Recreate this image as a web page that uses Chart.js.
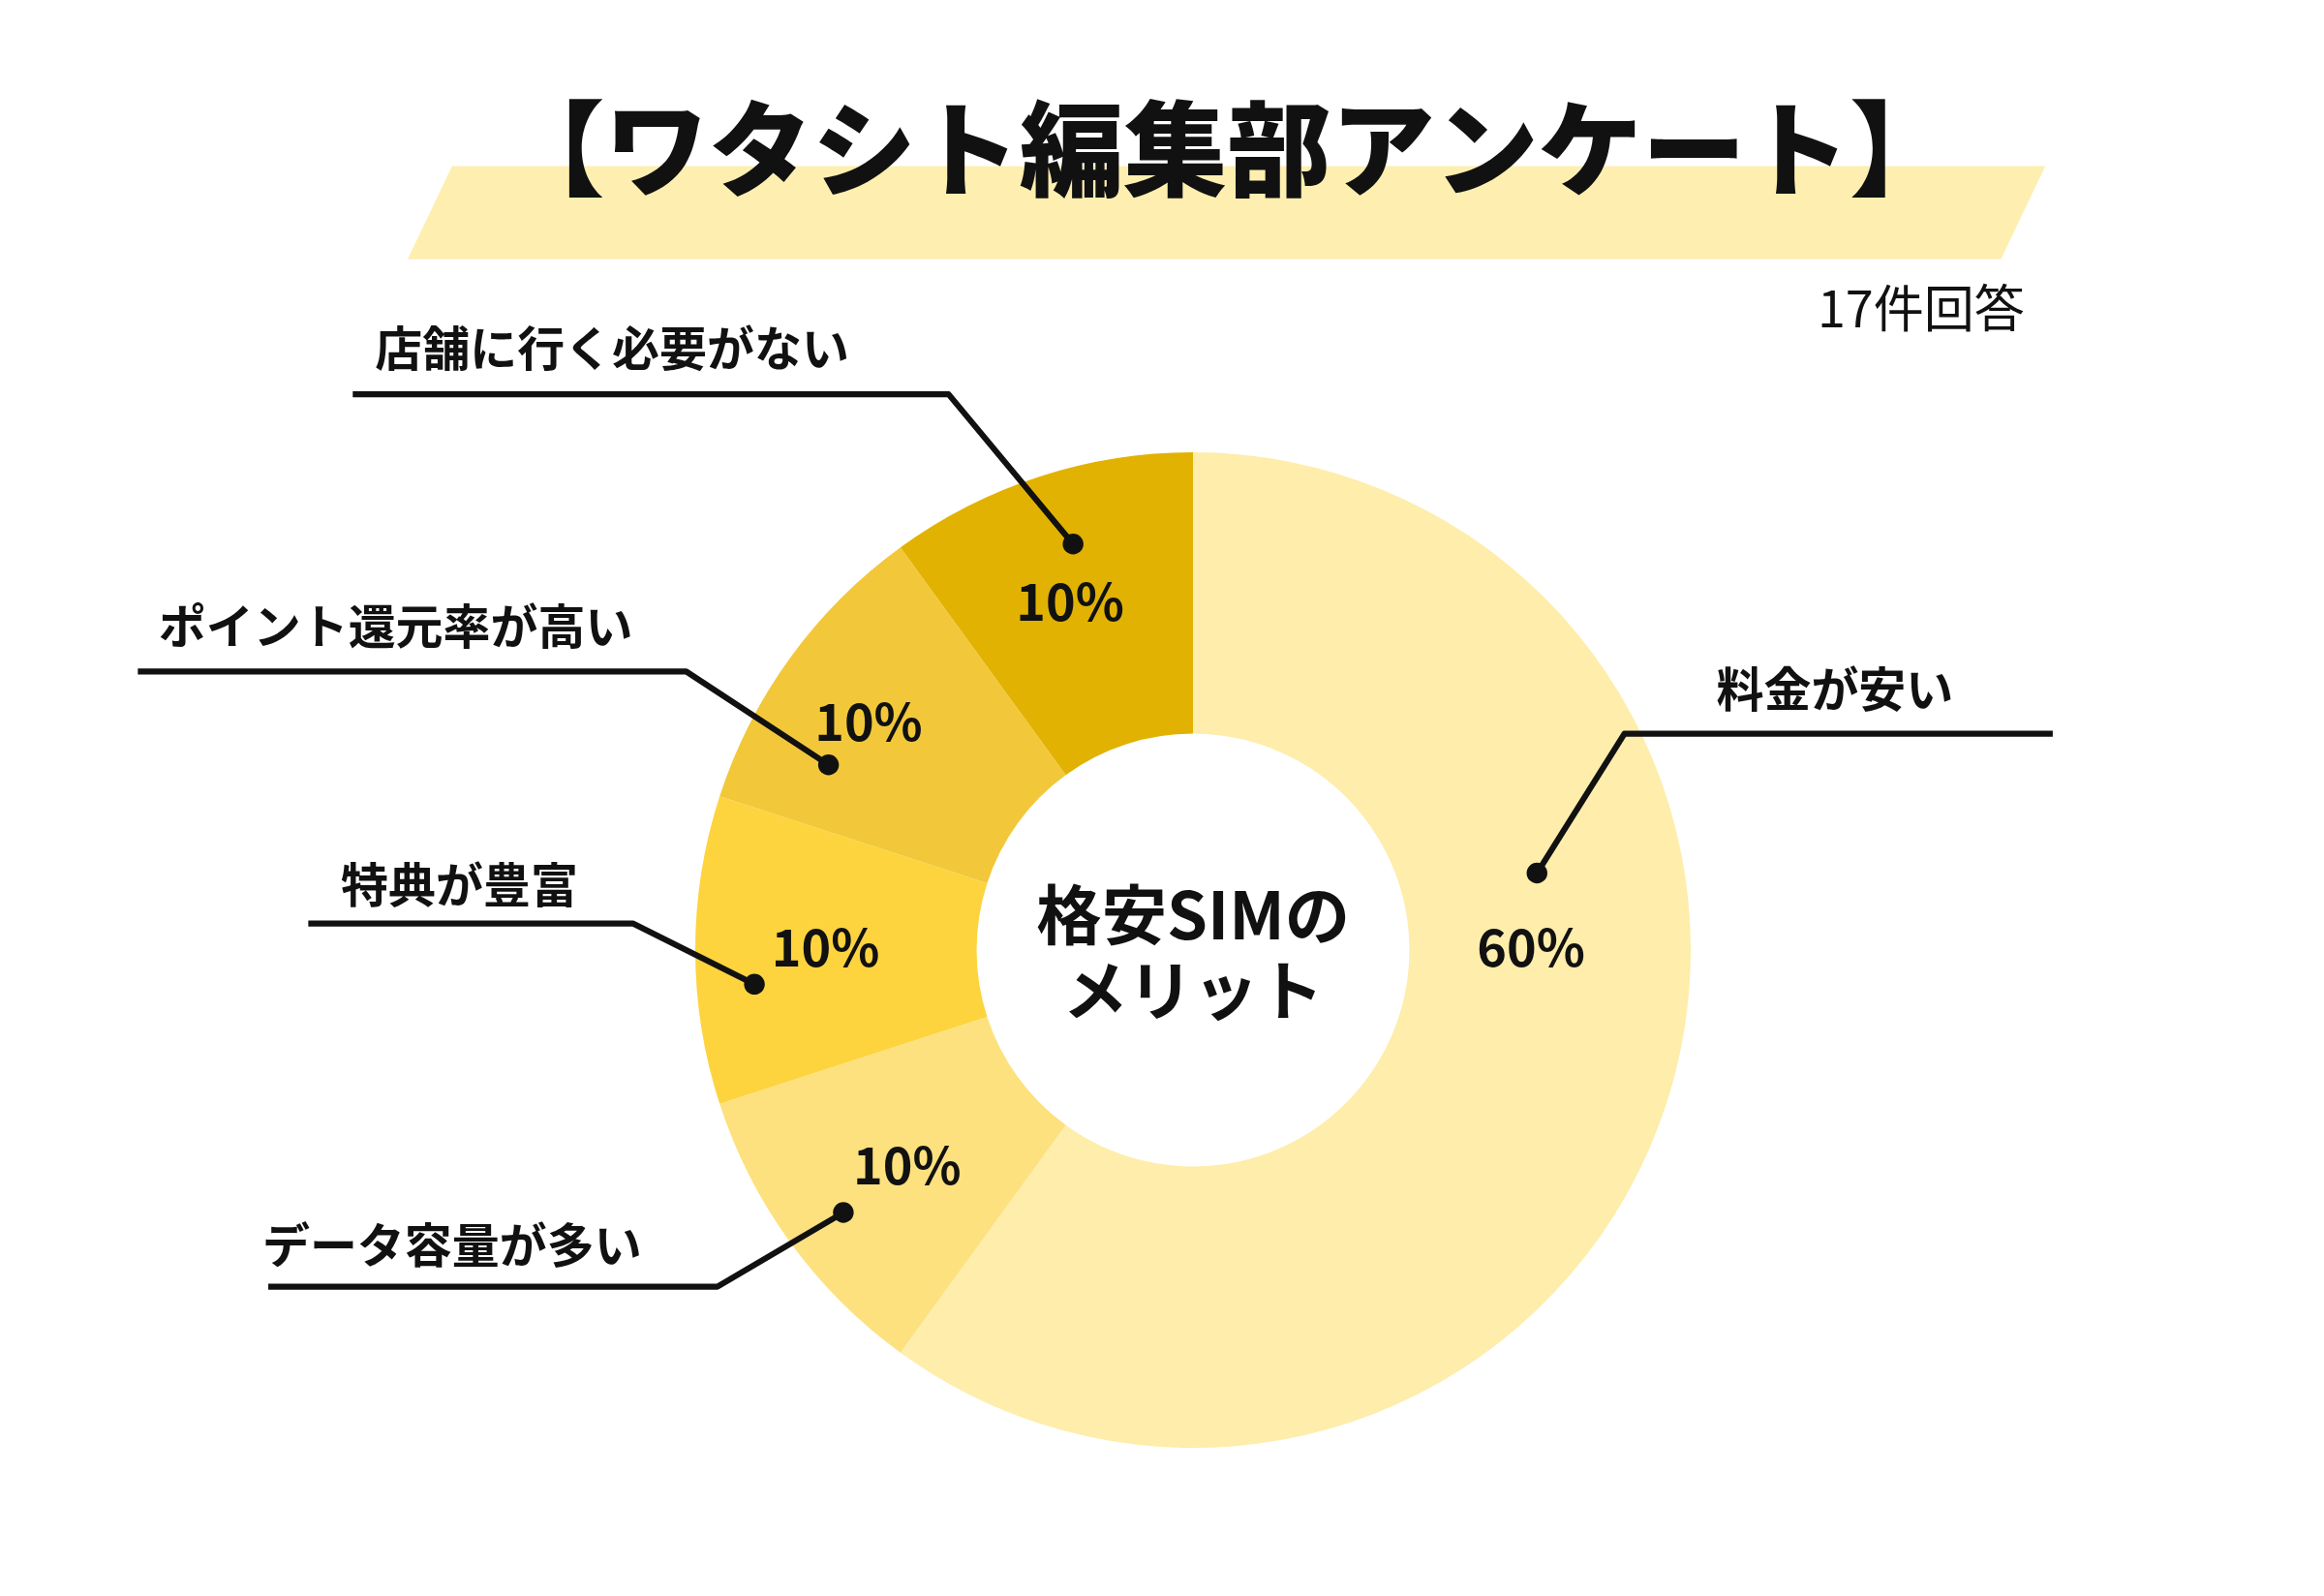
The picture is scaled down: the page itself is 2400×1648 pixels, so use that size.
<!DOCTYPE html>
<html>
<head>
<meta charset="utf-8">
<style>
  html, body { margin: 0; padding: 0; background: #fff; }
  #wrap { width: 2400px; height: 1648px; position: relative; }
</style>
<script src="https://cdn.jsdelivr.net/npm/chart.js@4/dist/chart.umd.min.js"></script>
</head>
<body>
<div id="wrap"><canvas id="pie"></canvas></div>
<script>
// data
const labels = ['料金が安い', 'データ容量が多い', '特典が豊富', 'ポイント還元率が高い', '店舗に行く必要がない'];
const values = [60, 10, 10, 10, 10];
const colors = ['#FEEDAB', '#FDE17E', '#FDD43E', '#F2C83A', '#E2B203'];

const S = 2400 / 1568;
const p = v => v * S;
const JP = '"Noto Sans CJK JP", "Noto Sans", sans-serif';

// leader layout (reference px): label pos, line path, percent label pos
const callouts = [
    { tx: 1158, ty: 465, path: [[1385, 495], [1096, 495], [1037, 589]], px: 1033, py: 639 },
    { tx: 177, ty: 840, path: [[181, 868], [484, 868], [569, 818]], px: 612, py: 786 },
    { tx: 230, ty: 597, path: [[208, 623], [427, 623], [509, 664]], px: 557, py: 639 },
    { tx: 107, ty: 422, path: [[93, 453], [463, 453], [559, 516]], px: 586, py: 487 },
    { tx: 253, ty: 235, path: [[238, 266], [640, 266], [724, 367]], px: 722, py: 406 }
];

const decor = {
    id: 'decor',
    beforeDraw(chart) {
        const c = chart.ctx;
        c.save();
        c.fillStyle = '#FEEFB0';
        c.beginPath();
        c.moveTo(p(305), p(112)); c.lineTo(p(1380), p(112));
        c.lineTo(p(1350), p(175)); c.lineTo(p(275), p(175));
        c.closePath(); c.fill();
        c.fillStyle = '#111';
        c.textAlign = 'center'; c.textBaseline = 'middle';
        c.font = `900 ${p(70)}px ${JP}`;
        c.fillText('【ワタシト編集部アンケート】', p(828), p(100));
        c.textAlign = 'right';
        c.font = `400 ${p(34)}px ${JP}`;
        c.fillText('17件回答', p(1366), p(208));
        c.restore();
    },
    afterDraw(chart) {
        const c = chart.ctx;
        c.save();
        c.fillStyle = '#111';
        c.strokeStyle = '#111';
        c.lineWidth = p(4);
        c.lineJoin = 'round';
        callouts.forEach((o, i) => {
            c.beginPath();
            o.path.forEach((pt, j) => j ? c.lineTo(p(pt[0]), p(pt[1])) : c.moveTo(p(pt[0]), p(pt[1])));
            c.stroke();
            const end = o.path[o.path.length - 1];
            c.beginPath(); c.arc(p(end[0]), p(end[1]), p(7), 0, Math.PI * 2); c.fill();
            c.textAlign = 'left'; c.textBaseline = 'middle';
            c.font = `700 ${p(32)}px ${JP}`;
            c.fillText(labels[i], p(o.tx), p(o.ty));
            c.textAlign = 'center';
            c.font = `700 ${p(34)}px ${JP}`;
            c.fillText(values[i] + '%', p(o.px), p(o.py));
        });
        c.font = `700 ${p(44)}px ${JP}`;
        c.fillText('格安SIMの', p(805), p(617));
        c.fillText('メリット', p(805), p(668));
        c.restore();
    }
};

new Chart(document.getElementById('pie'), {
    type: 'doughnut',
    data: {
        labels: labels,
        datasets: [{
            data: values,
            backgroundColor: colors,
            borderWidth: 0
        }]
    },
    options: {
        responsive: true,
        maintainAspectRatio: false,
        animation: false,
        cutout: p(146),
        layout: { padding: { left: 718, right: 654, top: 467, bottom: 153 } },
        plugins: { legend: { display: false }, tooltip: { enabled: false } }
    },
    plugins: [decor]
});
</script>
</body>
</html>
